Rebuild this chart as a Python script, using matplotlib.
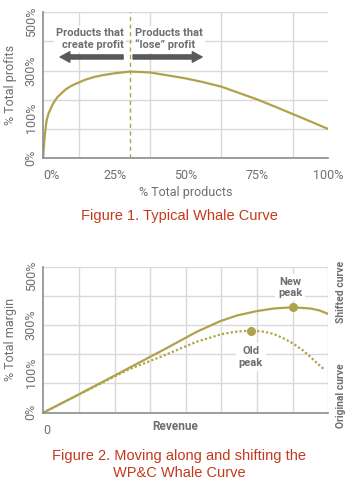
import matplotlib
matplotlib.use("Agg")
import matplotlib.pyplot as plt

# figure 1 - typical whale curve
prod_pct = [0, 0.05, 0.2, 0.4, 0.6, 0.9, 1.2, 1.8, 2.9, 3.9, 5, 6.4, 8, 10, 12.3, 15,
            18.1, 21, 25, 30.4, 37.4, 43, 49.7, 56, 62.6, 68, 74.9, 81, 87.4, 94, 100]
profit_pct = [0, 20, 40, 65, 86, 110, 131, 152, 177, 195, 210, 223, 237, 249, 259, 270,
              279, 285, 291, 297, 294, 285, 274, 261, 245, 226, 202, 178, 152, 125, 100]
peak_split = 30.4

# figure 2 - shifted and original curves
rev_new = [0, 12.5, 25, 30.4, 42.1, 53.8, 62.2, 68, 74.9, 81, 87.5, 93.6, 97, 100]
margin_new = [0, 63, 127, 155, 215, 277, 314, 333, 348, 357, 361, 357, 350, 338]
rev_old = [0, 12.5, 25, 30.4, 42.1, 53.8, 62.2, 67, 72.8, 77, 80.7, 84, 87.5, 91, 93.6, 96, 98.8]
margin_old = [0, 62, 124, 150, 195, 243, 268, 277, 281, 278, 270, 256, 238, 214, 192, 170, 146]
new_peak = (87.5, 361)
old_peak = (72.8, 281)

ytick_labels = ["0%", "100%", "300%", "500%"]
xtick_labels = ["0%", "25%", "50%", "75%", "100%"]

OLIVE = "#b0a24b"
GRAY = "#6d6e70"
DARK = "#58595b"
RED = "#c4391d"
GRID = "#d9d9d9"
NARROW = ["Roboto", "DejaVu Sans"]
REG = ["Liberation Sans", "DejaVu Sans"]

fig = plt.figure(figsize=(3.59, 4.92), dpi=100)
ax1 = fig.add_axes([0.1206, 0.6783, 0.794, 0.2967])
ax2 = fig.add_axes([0.1206, 0.1612, 0.794, 0.2967])

def style_axes(ax):
    ax.set_xlim(0, 100)
    ax.set_ylim(0, 500)
    ax.set_xticks([12.5 * i for i in range(9)], minor=True)
    ax.set_yticks([100 * i for i in range(6)], minor=True)
    ax.grid(True, which="minor", color=GRID, lw=1)
    ax.set_axisbelow(True)
    for s in ["top", "right"]:
        ax.spines[s].set_visible(False)
    for s in ["left", "bottom"]:
        ax.spines[s].set_color("#8c8c8c")
        ax.spines[s].set_linewidth(1.2)
    ax.tick_params(which="both", length=0)
    ax.set_yticks([2, 137, 301, 469])
    ax.set_yticklabels(ytick_labels, rotation=90, va="center",
                       family=NARROW, fontsize=9, color=GRAY)
    ax.tick_params(axis="y", pad=4)

# ---- figure 1
style_axes(ax1)
ax1.plot(prod_pct, profit_pct, color=OLIVE, lw=1.6, solid_capstyle="round")
ax1.axvline(peak_split, color=OLIVE, lw=1, ls=(0, (3, 2.5)))
ax1.set_xticks([0, 25, 50, 75, 100])
ax1.set_xticklabels(xtick_labels, family=NARROW, fontsize=9, color=GRAY)
ax1.get_xticklabels()[0].set_ha("left")
ax1.tick_params(axis="x", pad=8)
ax1.set_xlabel("% Total products", family=NARROW, fontsize=9, color=GRAY)
ax1.xaxis.set_label_coords(0.5, -0.19)
ax1.set_ylabel("% Total profits", family=NARROW, fontsize=9, color=GRAY)
ax1.yaxis.set_label_coords(-0.093, 0.5)

box = dict(facecolor="white", edgecolor="none", pad=1.5)
ax1.text(28.3, 408, "Products that\ncreate profit", ha="right", va="center",
         family=NARROW, fontsize=8, fontweight="bold", color=GRAY,
         bbox=box, linespacing=1.2)
ax1.text(32.2, 408, "Products that\n\u201close\u201d profit", ha="left", va="center",
         family=NARROW, fontsize=8, fontweight="bold", color=GRAY,
         bbox=box, linespacing=1.2)
arrow = dict(arrowstyle="simple,head_length=0.7,head_width=0.75,tail_width=0.3",
             color=DARK, shrinkA=0, shrinkB=0, mutation_scale=10)
ax1.annotate("", xy=(5.9, 347), xytext=(28, 347), arrowprops=arrow)
ax1.annotate("", xy=(55.7, 347), xytext=(31.5, 347), arrowprops=arrow)

fig.text(0.5, 1 - 216 / 492, "Figure 1. Typical Whale Curve", ha="center", va="center",
         family=REG, fontsize=10.5, color=RED)

# ---- figure 2
style_axes(ax2)
ax2.plot(rev_new, margin_new, color=OLIVE, lw=1.6)
ax2.plot(rev_old, margin_old, color=OLIVE, lw=1.6, ls=(0, (1, 1)))
ax2.plot(*new_peak, "o", color=OLIVE, ms=5.5)
ax2.plot(*old_peak, "o", color=OLIVE, ms=5.5)
ax2.set_xticks([0])
ax2.set_xticklabels(["0"], family=NARROW, fontsize=9, color=GRAY, ha="left")
ax2.tick_params(axis="x", pad=8)
ax2.text(46.2, -49, "Revenue", ha="center", va="center",
         family=NARROW, fontsize=8.5, fontweight="bold", color=GRAY)
ax2.set_ylabel("% Total margin", family=NARROW, fontsize=9, color=GRAY)
ax2.yaxis.set_label_coords(-0.093, 0.5)
ax2.text(86.6, 429, "New\npeak", ha="center", va="center",
         family=NARROW, fontsize=8, fontweight="bold", color=GRAY,
         bbox=dict(facecolor="white", edgecolor="none", pad=2), linespacing=1.2)
ax2.text(72.8, 191, "Old\npeak", ha="center", va="center",
         family=NARROW, fontsize=8, fontweight="bold", color=GRAY,
         bbox=dict(facecolor="white", edgecolor="none", pad=2), linespacing=1.2)

fig.text(341 / 359, 1 - 292 / 492, "Shifted curve", rotation=90, ha="center", va="center",
         family=NARROW, fontsize=7.5, fontweight="bold", color=GRAY)
fig.text(341 / 359, 1 - 396 / 492, "Original curve", rotation=90, ha="center", va="center",
         family=NARROW, fontsize=7.5, fontweight="bold", color=GRAY)

fig.text(0.5, 1 - 464.5 / 492, "Figure 2. Moving along and shifting the\nWP&C Whale Curve",
         ha="center", va="center", family=REG, fontsize=10.5, color=RED, linespacing=1.35)

fig.savefig("out.png", dpi=100)
